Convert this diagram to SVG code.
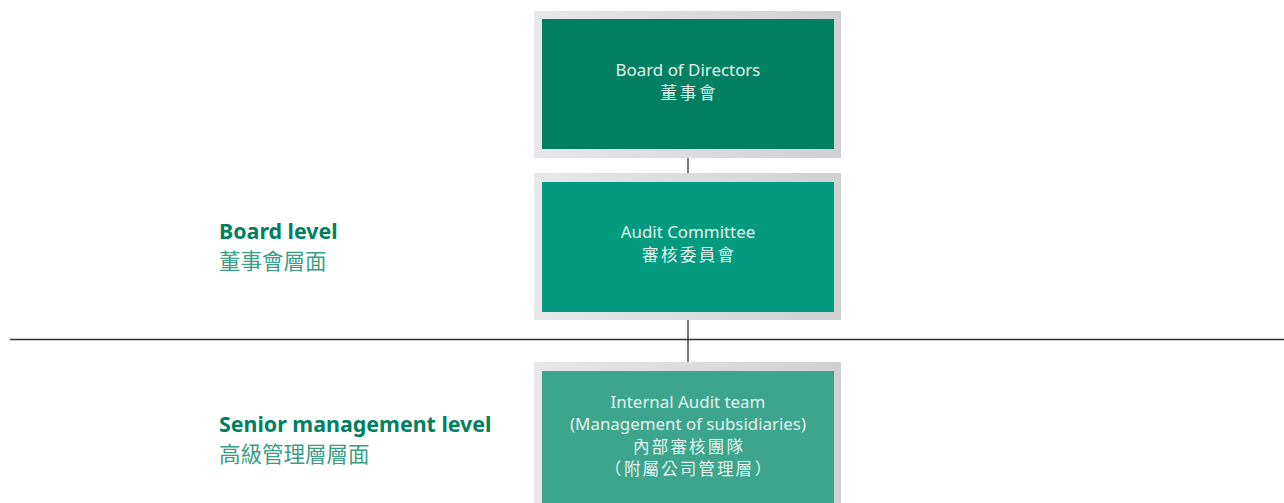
<svg xmlns="http://www.w3.org/2000/svg" width="1284" height="503" viewBox="0 0 1284 503">
<defs>
<linearGradient id="frame" x1="0" y1="0" x2="1" y2="0">
<stop offset="0" stop-color="#e8e8ea"/>
<stop offset="1" stop-color="#d0d0d3"/>
</linearGradient>
<style>
.frame{fill:url(#frame)}
.t{font-family:"Noto Sans","Noto Sans CJK TC",sans-serif;font-size:16.9px;fill:#e2f2ec;text-anchor:middle}
.tc{font-family:"Noto Sans CJK TC",sans-serif;font-size:16.5px;fill:#e2f2ec;text-anchor:middle}
.h{font-family:"Noto Sans","Noto Sans CJK TC",sans-serif;font-size:21.4px;font-weight:bold;fill:#008060}
.c{font-family:"Noto Sans CJK TC",sans-serif;font-size:21.5px;fill:#3a9e84}
.ln{stroke:#333;stroke-width:1.3;fill:none}
</style>
</defs>
<rect width="1284" height="503" fill="#ffffff"/>
<g id="connectors">
<line class="ln" x1="688" y1="157" x2="688" y2="173"/>
<line class="ln" x1="688" y1="319" x2="688" y2="362"/>
<line class="ln" x1="10" y1="339.5" x2="1284" y2="339.5"/>
</g>
<g id="board">
<rect class="frame" x="534" y="11" width="307" height="147"/>
<rect x="542" y="19" width="292" height="130" fill="#008060"/>
<text class="t" x="688" y="76">Board of Directors</text>
<text class="tc" x="688" y="99" textLength="55" lengthAdjust="spacing">董事會</text>
</g>
<g id="audit">
<rect class="frame" x="534" y="173" width="307" height="147"/>
<rect x="542" y="182" width="292" height="130" fill="#039a80"/>
<text class="t" x="688" y="238">Audit Committee</text>
<text class="tc" x="688" y="261" textLength="92" lengthAdjust="spacing">審核委員會</text>
</g>
<g id="internal">
<rect class="frame" x="534" y="362" width="307" height="150"/>
<rect x="542" y="371" width="292" height="132" fill="#3ca58c"/>
<text class="t" x="688" y="408">Internal Audit team</text>
<text class="t" x="688" y="430">(Management of subsidiaries)</text>
<text class="tc" x="688" y="453" textLength="110" lengthAdjust="spacing">內部審核團隊</text>
<text class="tc" x="688" y="475"><tspan x="613">（</tspan><tspan x="688" textLength="128" lengthAdjust="spacing">附屬公司管理層</tspan><tspan x="763">）</tspan></text>
</g>
<g id="board-level">
<text class="h" x="219" y="239">Board level</text>
<text class="c" x="219" y="269">董事會層面</text>
</g>
<g id="senior-level">
<text class="h" x="219" y="432">Senior management level</text>
<text class="c" x="219" y="462">高級管理層層面</text>
</g>
</svg>
